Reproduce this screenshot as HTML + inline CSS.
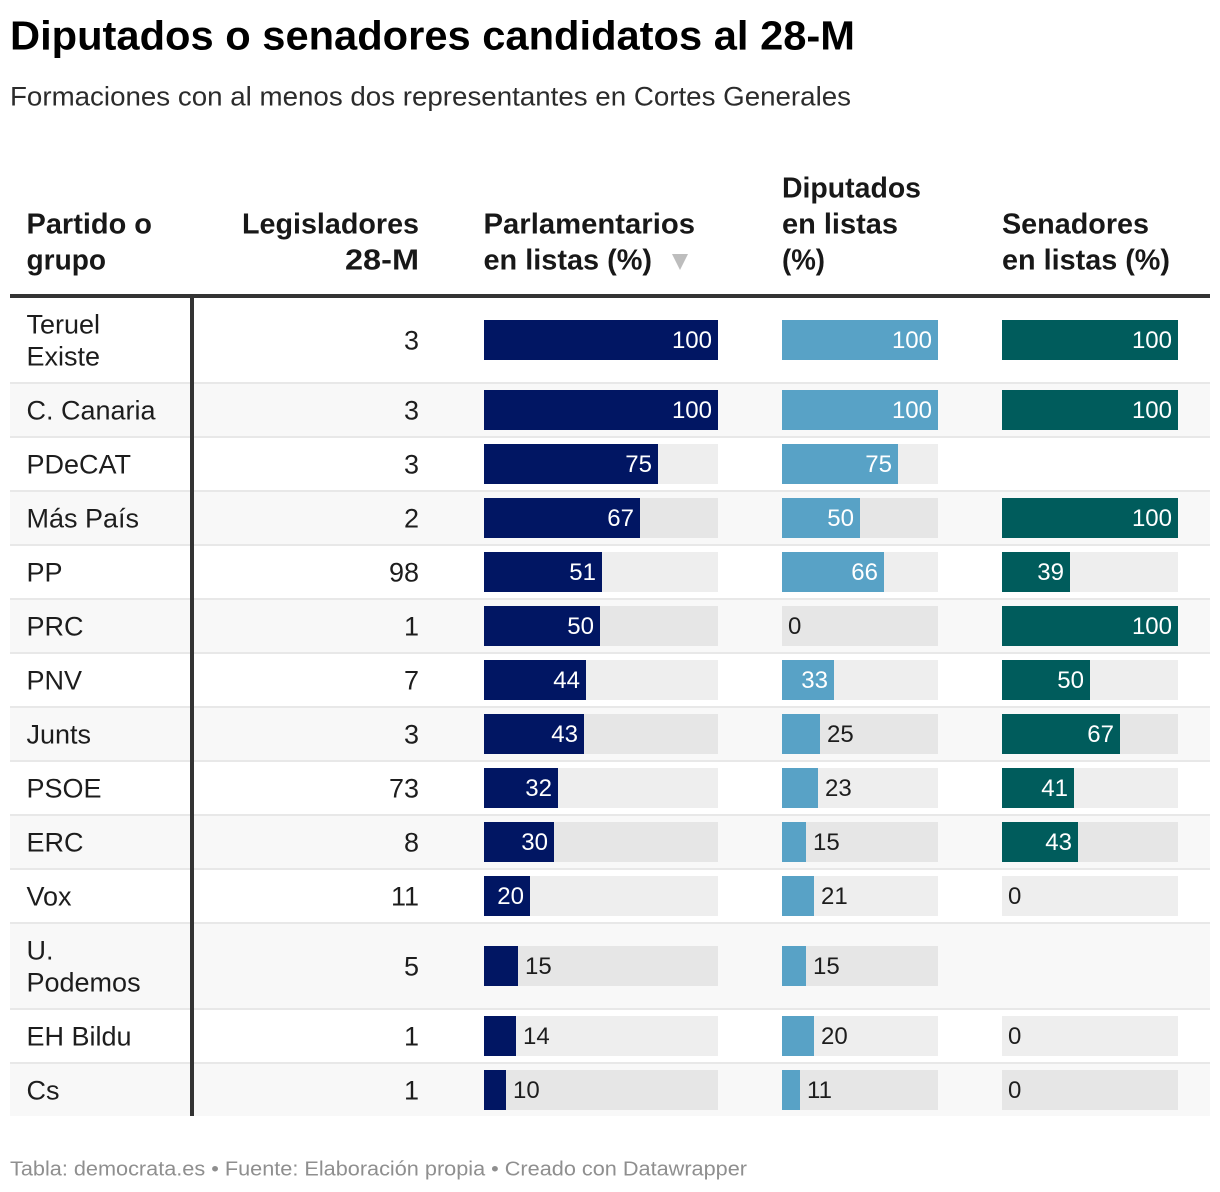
<!DOCTYPE html>
<html lang="es">
<head>
<meta charset="utf-8">
<title>Diputados o senadores candidatos al 28-M</title>
<style>
  html, body { margin: 0; padding: 0; background: #fff; width: 1220px; height: 1192px; overflow: hidden; }
  svg { display: block; font-family: "Liberation Sans", sans-serif; }
  .hdr { font-size: 28.5px; font-weight: 700; fill: #181818; }
</style>
</head>
<body>
<svg id="chart" xmlns="http://www.w3.org/2000/svg" width="1220" height="1192" viewBox="0 0 1220 1192">
  <text x="10" y="49.5" font-size="41" font-weight="700" fill="#000" textLength="845" lengthAdjust="spacingAndGlyphs">Diputados o senadores candidatos al 28-M</text>
  <text x="10" y="105.5" font-size="27" fill="#2b2b2b" textLength="841" lengthAdjust="spacingAndGlyphs">Formaciones con al menos dos representantes en Cortes Generales</text>

  <g>
    <text class="hdr" x="26.5" y="233.5" textLength="125.5" lengthAdjust="spacingAndGlyphs">Partido o</text>
    <text class="hdr" x="26.5" y="269.5" textLength="79.5" lengthAdjust="spacingAndGlyphs">grupo</text>
  </g>
  <g>
    <text class="hdr" x="242" y="233.5" textLength="177" lengthAdjust="spacingAndGlyphs">Legisladores</text>
    <text class="hdr" x="345" y="269.5" textLength="74" lengthAdjust="spacingAndGlyphs">28-M</text>
  </g>
  <g>
    <text class="hdr" x="483.5" y="233.5" textLength="211.5" lengthAdjust="spacingAndGlyphs">Parlamentarios</text>
    <text class="hdr" x="483.5" y="269.5" textLength="168.5" lengthAdjust="spacingAndGlyphs">en listas (%)</text>
  </g>
  <polygon points="672,254 688,254 680,270" fill="#bdbdbd"></polygon>
  <g>
    <text class="hdr" x="782" y="197.5" textLength="139" lengthAdjust="spacingAndGlyphs">Diputados</text>
    <text class="hdr" x="782" y="233.5" textLength="116" lengthAdjust="spacingAndGlyphs">en listas</text>
    <text class="hdr" x="782" y="269.5" textLength="43" lengthAdjust="spacingAndGlyphs">(%)</text>
  </g>
  <g>
    <text class="hdr" x="1002" y="233.5" textLength="147" lengthAdjust="spacingAndGlyphs">Senadores</text>
    <text class="hdr" x="1002" y="269.5" textLength="168" lengthAdjust="spacingAndGlyphs">en listas (%)</text>
  </g>

  <g id="rows"></g>

  <rect x="10" y="294" width="1200" height="4" fill="#333"></rect>
  <rect x="190" y="298" width="4" height="818" fill="#333"></rect>

  <text x="10" y="1175.5" font-size="20.5" fill="#8f8f8f" textLength="737" lengthAdjust="spacingAndGlyphs">Tabla: democrata.es • Fuente: Elaboración propia • Creado con Datawrapper</text>
</svg>

<script>
const parties = [["Teruel", "Existe"], ["C. Canaria"], ["PDeCAT"], ["Más País"], ["PP"], ["PRC"], ["PNV"], ["Junts"], ["PSOE"], ["ERC"], ["Vox"], ["U.", "Podemos"], ["EH Bildu"], ["Cs"]];
const legislators = [3, 3, 3, 2, 98, 1, 7, 3, 73, 8, 11, 5, 1, 1];
const parliamentarians = [100, 100, 75, 67, 51, 50, 44, 43, 32, 30, 20, 15, 14, 10];
const deputies = [100, 100, 75, 50, 66, 0, 33, 25, 23, 15, 21, 15, 20, 11];
const senators = [100, 100, null, 100, 39, 100, 50, 67, 41, 43, 0, null, 0, 0];

const SVG_NS = "http://www.w3.org/2000/svg";
const host = document.getElementById("rows");
/* Bars snap to whole device pixels (even CSS pixels), as in a 2x layout. */
const snapFloor = w => Math.floor(w / 2) * 2;
const snapNearest = w => Math.ceil(w / 2 - 0.5) * 2;
const scaleParl = v => 484 + snapFloor(v / 100 * 234);
const scaleDep = v => 782 + snapNearest(v / 100 * 156);
const scaleSen = v => 1002 + snapNearest(v / 100 * 176);

function make(tag, attrs, text) {
  const el = document.createElementNS(SVG_NS, tag);
  for (const k in attrs) el.setAttribute(k, attrs[k]);
  if (text !== undefined) el.textContent = text;
  host.appendChild(el);
  return el;
}

function drawBar(value, scale, color, rowTop, rowH, striped, key) {
  if (value === null) return;
  const x0 = scale(0), x1 = scale(100), xv = scale(value);
  const top = rowTop + (rowH - 40) / 2;
  const track = make("rect", { x: x0, y: top, width: x1 - x0, height: 40, fill: striped ? "#e6e6e6" : "#eeeeee" });
  
  
  const fill = make("rect", { x: x0, y: top, width: xv - x0, height: 40, fill: color });
  
  
  const inside = xv - x0 >= 45;
  const label = make("text", {
    x: inside ? xv - 6 : (value === 0 ? x0 + 6 : xv + 7),
    y: top + 28,
    "font-size": 24,
    "text-anchor": inside ? "end" : "start",
    fill: inside ? "#ffffff" : "#1d1d1d"
  }, String(value));
  
  
}

let y = 298;
parties.forEach((lines, i) => {
  const rowH = lines.length > 1 ? 84 : 52;
  const striped = i % 2 === 1;
  const isLast = i === parties.length - 1;
  if (striped) {
    const bg = make("rect", { x: 10, y: y, width: 1200, height: rowH, fill: "#f8f8f8" });
    
    
  }
  const mid = y + rowH / 2;
  lines.forEach((line, j) => {
    const baseline = mid + 9.5 + (j - (lines.length - 1) / 2) * 32;
    const name = make("text", { x: 26.5, y: baseline, "font-size": 27, fill: "#1d1d1d" }, line);
    
    
  });
  const count = make("text", { x: 419, y: mid + 9.5, "font-size": 27, "text-anchor": "end", fill: "#1d1d1d" }, String(legislators[i]));
  
  
  drawBar(parliamentarians[i], scaleParl, "#011663", y, rowH, striped, "parliamentarians");
  drawBar(deputies[i], scaleDep, "#58a2c6", y, rowH, striped, "deputies");
  drawBar(senators[i], scaleSen, "#005c5c", y, rowH, striped, "senators");
  if (!isLast) {
    const sep = make("rect", { x: 10, y: y + rowH, width: 1200, height: 2, fill: "#e8e8e8" });
    
    
  }
  y += rowH + 2;
});
</script>
</body>
</html>
